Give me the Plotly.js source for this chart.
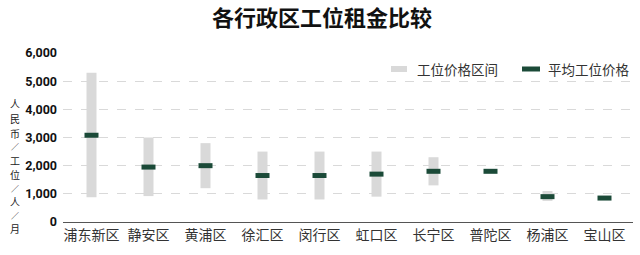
<!DOCTYPE html>
<html><head><meta charset="utf-8">
<script src="https://cdn.plot.ly/plotly-3.0.1.min.js"></script>
<style>html,body{margin:0;padding:0;background:#fff}#c{width:640px;height:255px}</style>
</head><body><div id="c"></div>
<script>
const districts = ['浦东新区','静安区','黄浦区','徐汇区','闵行区','虹口区','长宁区','普陀区','杨浦区','宝山区'];
const rangeLow  = [880, 920, 1200, 800, 800, 900, 1300, 1800, 750, 850];
const rangeHigh = [5300, 3000, 2800, 2500, 2500, 2500, 2300, 1800, 1100, 850];
const avgPrice  = [3080, 1950, 2000, 1650, 1650, 1700, 1800, 1800, 900, 850];
const yTicks = [0, 1000, 2000, 3000, 4000, 5000, 6000];
const yTickText = ['0','1,000','2,000','3,000','4,000','5,000','6,000'];
const yTitleChars = ['人','民','币','／','工','位','／','人','／','月'];

const CJK = '"Noto Sans CJK SC", "Noto Sans", sans-serif';
const GRAY = '#d9d9d9', GREEN = '#1b4a38';
const PH = 169, PW = 570, L = 63, B = 222;

const traces = [
  {type:'bar', x: districts, base: rangeLow, y: rangeHigh.map((h,i)=>h-rangeLow[i]),
   width: 0.175, marker:{color: GRAY}, name:'工位价格区间', hoverinfo:'skip'},
  {type:'scatter', mode:'markers', x: districts, y: avgPrice, name:'平均工位价格',
   marker:{symbol:'line-ew', size:10, line:{width:5, color: GREEN}, color: GREEN}}
];

const annotations = [
  {text:'工位价格区间', xref:'paper', yref:'paper', x:(415-L)/PW, y:(B-69)/PH, xanchor:'left', yanchor:'middle',
   showarrow:false, font:{family: CJK, size: 13.5, color:'#333'}},
  {text:'平均工位价格', xref:'paper', yref:'paper', x:(546-L)/PW, y:(B-69)/PH, xanchor:'left', yanchor:'middle',
   showarrow:false, font:{family: CJK, size: 13.5, color:'#333'}}
];
// stacked vertical axis title: one annotation per character
(function(){
  const sizes = yTitleChars.map(c => c === '／' ? 8 : 10);
  const hts = sizes.map(s => s * 1.46 + 0.3);
  const total = hts.reduce((a,b)=>a+b, 0);
  let yTop = 166 - total/2;
  yTitleChars.forEach((ch, i) => {
    const yc = yTop + hts[i]/2;
    annotations.push({text: ch, xref:'paper', yref:'paper', x:(15-L)/PW, y:(B-yc)/PH,
      xanchor:'center', yanchor:'middle', showarrow:false,
      font:{family: CJK, size: sizes[i], color:'#222'}});
    yTop += hts[i];
  });
})();

const layout = {
  width: 640, height: 255,
  margin: {l: L, r: 7, t: 53, b: 33},
  paper_bgcolor: '#fff', plot_bgcolor: '#fff',
  showlegend: false,
  title: {text: '各行政区工位租金比较', x: 0.503, xanchor: 'center', y: 0.93, yanchor:'middle',
          font: {family: CJK, size: 22, color: '#111', weight: 'bold'}},
  xaxis: {type:'category', range:[-0.5, 9.5], showgrid:false, zeroline:false,
          showline:true, linecolor:'#555', linewidth:1.2, ticks:'',
          tickfont:{family: CJK, size: 14, color:'#333'}, fixedrange:true},
  yaxis: {range:[0, 6000], tickvals: yTicks, ticktext: yTickText,
          showgrid:true, gridcolor:'#cfcfcf', griddash:'dash', gridwidth:0.8,
          zeroline:false, showline:false, ticks:'', ticklabelstandoff: 5,
          tickfont:{family:'Roboto, "DejaVu Sans Condensed", sans-serif', size: 12.5, color:'#111', weight:'bold'},
          fixedrange:true},
  shapes: [
    {type:'rect', xref:'paper', yref:'paper', x0:(391-L)/PW, x1:(407-L)/PW, y0:(B-72)/PH, y1:(B-66)/PH,
     fillcolor: GRAY, line:{width:0}},
    {type:'rect', xref:'paper', yref:'paper', x0:(522-L)/PW, x1:(540-L)/PW, y0:(B-71.5)/PH, y1:(B-66.5)/PH,
     fillcolor: GREEN, line:{width:0}}
  ],
  annotations: annotations
};
Plotly.newPlot('c', traces, layout, {displayModeBar:false, staticPlot:true});
</script></body></html>
